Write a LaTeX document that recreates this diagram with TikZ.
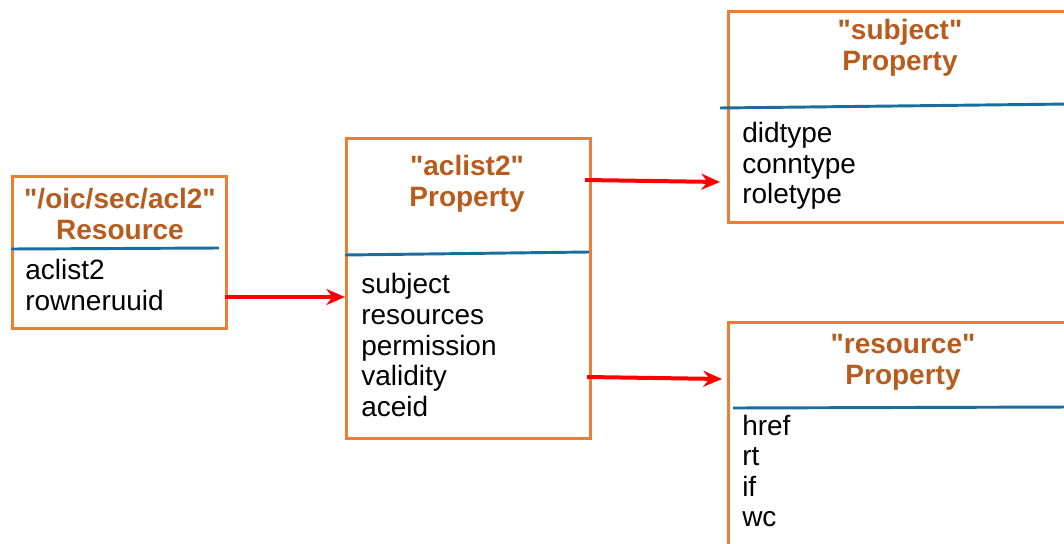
\documentclass[tikz,border=0pt]{standalone}
\usepackage{fontspec}
\setmainfont{Liberation Sans}
\usetikzlibrary{arrows.meta,calc}
\definecolor{boxor}{HTML}{ED7D31}
\definecolor{titbr}{HTML}{B85C1E}
\definecolor{divbl}{HTML}{1A6E9E}
\definecolor{arrred}{HTML}{FF0000}
\newcommand{\sq}{\textquotedbl}
\begin{document}
\begin{tikzpicture}[x=0.75pt,y=-0.75pt,
  umlbox/.style={draw=boxor,line width=2pt,rectangle,inner sep=0pt,anchor=north west,fill=white},
  titletext/.style={font=\fontsize{21}{23.3}\selectfont\bfseries,text=titbr,align=center,inner sep=0pt},
  itemtext/.style={font=\fontsize{21}{22.9}\selectfont,text=black,align=left,inner sep=0pt,anchor=west},
  divider/.style={draw=divbl,line width=2.2pt},
  arr/.style={draw=arrred,line width=3pt,-{Stealth[length=14pt,width=12pt]}}]
\useasboundingbox (0,0) rectangle (1064,543);
\clip (0,0) rectangle (1064,543);
% boxes
\node[umlbox,minimum width=214*0.75pt,minimum height=152*0.75pt] (res) at (11,175) {};
\node[umlbox,minimum width=244*0.75pt,minimum height=300*0.75pt] (acl) at (345,137) {};
\node[umlbox,minimum width=360*0.75pt,minimum height=211*0.75pt] (subj) at (727,10) {};
\node[umlbox,minimum width=360*0.75pt,minimum height=260*0.75pt] (rsrc) at (727,321) {};
% titles
\node[titletext] (tres) at (120,214) {\sq/oic/sec/acl2\sq\\Resource};
\node[titletext] (tacl) at (467,184) {\sq aclist2\sq\\Property};
\node[titletext] (tsubj) at (900,48) {\sq subject\sq\\Property};
\node[titletext] (trsrc) at (903,362) {\sq resource\sq\\Property};
% dividers
\coordinate (d1a) at (11,249); \coordinate (d1b) at (219,248);
\coordinate (d2a) at (345,255); \coordinate (d2b) at (589,252);
\coordinate (d3a) at (720,108); \coordinate (d3b) at (1070,104);
\coordinate (d4a) at (733,408); \coordinate (d4b) at (1070,407);
\draw[divider] (d1a) -- (d1b);
\draw[divider] (d2a) -- (d2b);
\draw[divider] (d3a) -- (d3b);
\draw[divider] (d4a) -- (d4b);
% items
\node[itemtext] (ires) at (25,285) {aclist2\\rowneruuid};
\node[itemtext] (iacl) at (361,345) {subject\\resources\\permission\\validity\\aceid};
\node[itemtext] (isubj) at (742,166) {didtype\\conntype\\roletype};
\node[itemtext] (irsrc) at (742,471) {href\\rt\\if\\wc};
% arrows
\coordinate (a1) at (225,297);
\coordinate (a2) at (585,180);
\coordinate (a2e) at (720,182);
\coordinate (a3) at (587,377);
\coordinate (a3e) at (722,379);
\draw[arr] (a1) -- (acl.west |- a1);
\draw[arr] (a2) -- (a2e);
\draw[arr] (a3) -- (a3e);
\end{tikzpicture}
\end{document}
